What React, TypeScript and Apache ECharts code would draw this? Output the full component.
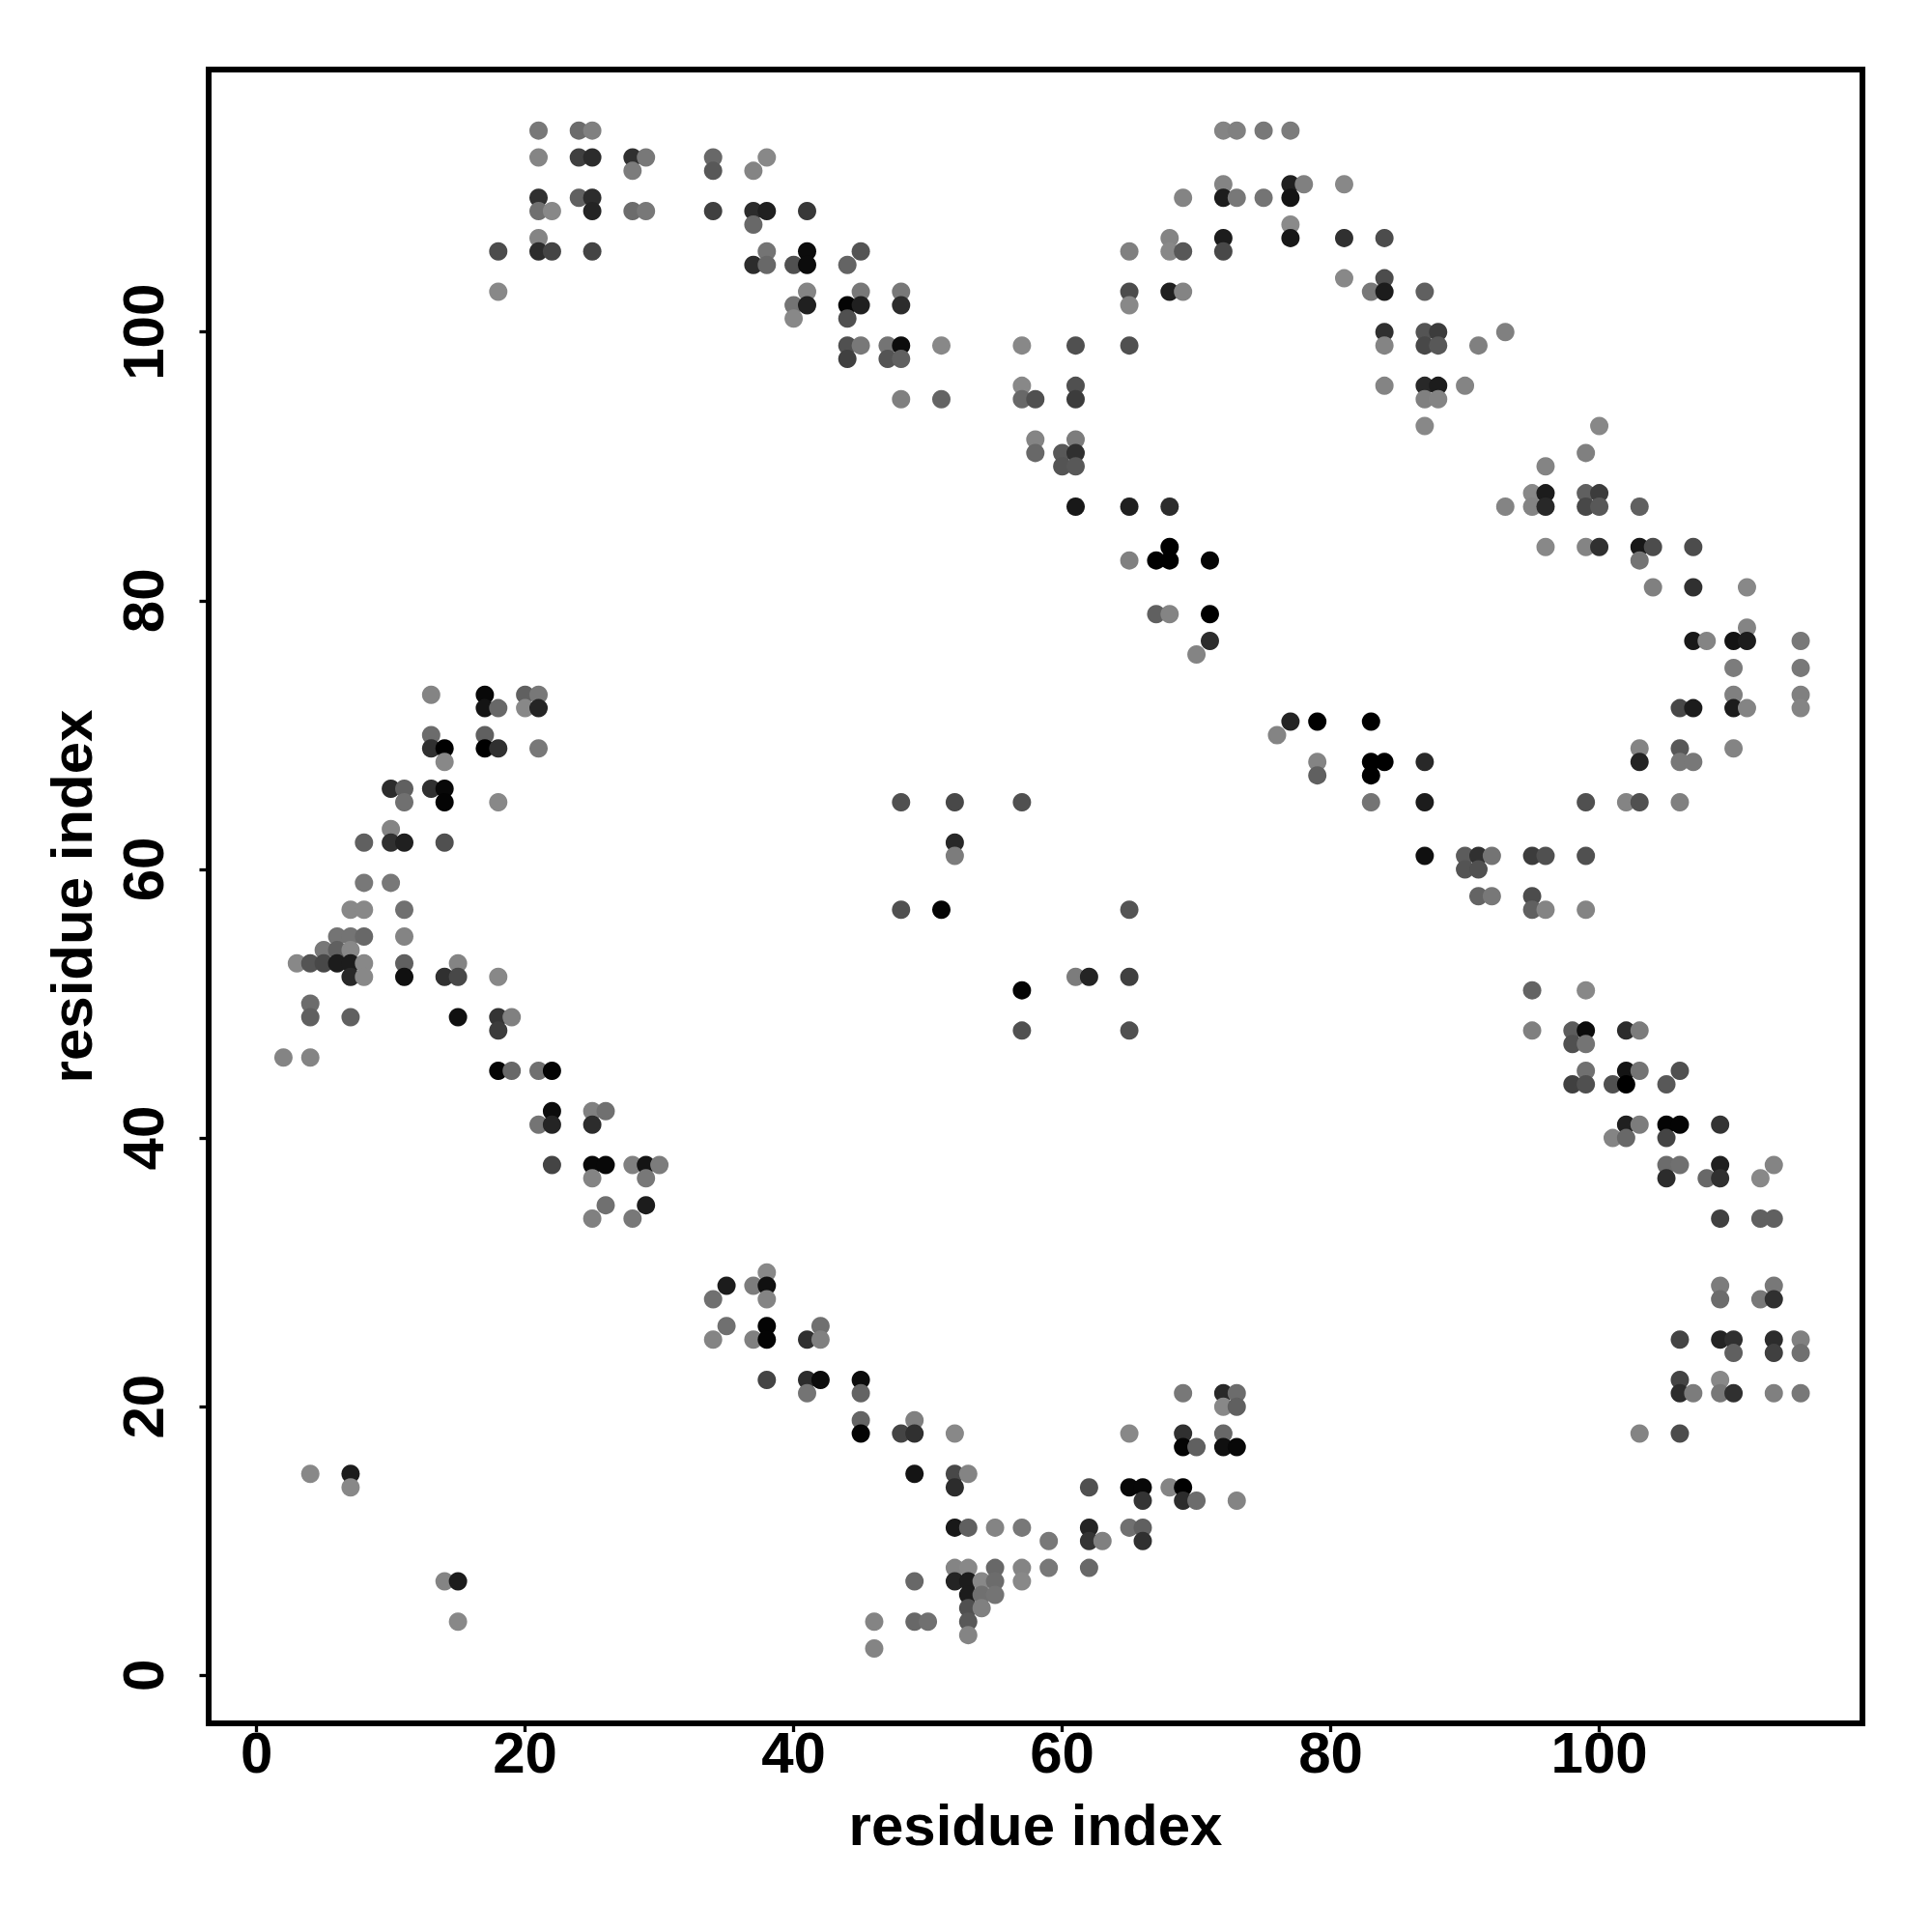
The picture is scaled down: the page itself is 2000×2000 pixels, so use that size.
import React, { useEffect, useRef } from "react";
import * as echarts from "echarts";

const axisTitle = "residue index";
const tickValues = [0, 20, 40, 60, 80, 100];

const rowY = [
  115, 113, 112, 111, 110, 109, 108, 107, 106, 105, 104, 103, 102, 101, 100, 99, 98, 96, 95, 93, 92, 91, 90, 88, 87,
  84, 83, 81, 79, 78, 77, 76, 75, 73, 72, 71, 70, 69, 68, 67, 66, 65, 63, 62, 61, 60, 59, 58, 57, 55, 54, 53, 52, 51,
  50, 49, 48, 47, 46, 45, 44, 42, 41, 40, 38, 37, 35, 34, 30, 29, 28, 26, 25, 24, 22, 21, 20, 19, 18, 17, 15, 14, 13,
  11, 10, 8, 7, 6, 5, 4, 3, 2,
];

const rowX = [
  [21, 24, 25, 72, 73, 75, 77],
  [21, 24, 25, 28, 29, 34, 38],
  [28, 34, 37],
  [72, 77, 78, 81],
  [21, 24, 25, 69, 72, 73, 75, 77],
  [21, 22, 25, 28, 29, 34, 37, 38, 41],
  [37, 77],
  [21, 68, 72, 77, 81, 84],
  [18, 21, 22, 25, 38, 41, 45, 65, 68, 69, 72],
  [37, 38, 40, 41, 44],
  [81, 84],
  [18, 41, 45, 48, 65, 68, 69, 83, 84, 87],
  [40, 41, 44, 45, 48, 65],
  [40, 44],
  [84, 87, 88, 93],
  [44, 45, 47, 48, 51, 57, 61, 65, 84, 87, 88, 91],
  [44, 47, 48],
  [57, 61, 84, 87, 88, 90],
  [48, 51, 57, 58, 61, 87, 88],
  [87, 100],
  [58, 61],
  [58, 60, 61, 99],
  [60, 61, 96],
  [95, 96, 99, 100],
  [61, 65, 68, 93, 95, 96, 99, 100, 103],
  [68, 96, 99, 100, 103, 104, 107],
  [65, 67, 68, 71, 103],
  [104, 107, 111],
  [67, 68, 71],
  [111],
  [71, 107, 108, 110, 111, 115],
  [70],
  [110, 115],
  [13, 17, 20, 21, 110, 115],
  [17, 18, 20, 21, 106, 107, 110, 111, 115],
  [77, 79, 83],
  [13, 17, 76],
  [13, 14, 17, 18, 21, 103, 106, 110],
  [14, 79, 83, 84, 87, 103, 106, 107],
  [79, 83],
  [10, 11, 13, 14],
  [11, 14, 18, 48, 52, 57, 83, 87, 99, 102, 103, 106],
  [10],
  [8, 10, 11, 14, 52],
  [52, 87, 90, 91, 92, 95, 96, 99],
  [90, 91],
  [8, 10],
  [91, 92, 95],
  [7, 8, 11, 48, 51, 65, 95, 96, 99],
  [6, 7, 8, 11],
  [5, 6, 7],
  [3, 4, 5, 6, 7, 8, 11, 15],
  [7, 8, 11, 14, 15, 18, 61, 62, 65],
  [57, 95, 99],
  [4],
  [4, 7, 15, 18, 19],
  [18, 57, 65, 95, 98, 99, 102, 103],
  [98, 99],
  [2, 4],
  [18, 19, 21, 22, 99, 102, 103, 106],
  [98, 99, 101, 102, 105],
  [22, 25, 26],
  [21, 22, 25, 102, 103, 105, 106, 109],
  [101, 102, 105],
  [22, 25, 26, 28, 29, 30, 105, 106, 109, 113],
  [25, 29, 105, 108, 109, 112],
  [26, 29],
  [25, 28, 109, 112, 113],
  [38],
  [35, 37, 38, 109, 113],
  [34, 38, 109, 112, 113],
  [35, 38, 42],
  [34, 37, 38, 41, 42, 106, 109, 110, 113, 115],
  [110, 113, 115],
  [38, 41, 42, 45, 106, 109],
  [41, 45, 69, 72, 73, 106, 107, 109, 110, 113, 115],
  [72, 73],
  [45, 49],
  [45, 48, 49, 52, 65, 69, 72, 103, 106],
  [69, 70, 72, 73],
  [4, 7, 49, 52, 53],
  [7, 52, 62, 65, 66, 68, 69],
  [66, 69, 70, 73],
  [52, 53, 55, 57, 62, 65, 66],
  [59, 62, 63, 66],
  [52, 53, 55, 57, 59, 62],
  [14, 15, 49, 52, 53, 54, 55, 57],
  [53, 54, 55],
  [53, 54],
  [15, 46, 49, 50, 53],
  [53],
  [46],
];

const rowShade = [
  [0x78, 0x6c, 0x80, 0x84, 0x80, 0x78, 0x7c],
  [0x85, 0x40, 0x2c, 0x30, 0x78, 0x68, 0x88],
  [0x7c, 0x58, 0x84],
  [0x84, 0x20, 0x80, 0x88],
  [0x30, 0x60, 0x2c, 0x84, 0x1c, 0x78, 0x74, 0x14],
  [0x70, 0x88, 0x24, 0x6c, 0x78, 0x40, 0x2c, 0x20, 0x38],
  [0x68, 0x8a],
  [0x84, 0x84, 0x1c, 0x18, 0x30, 0x4c],
  [0x4c, 0x2c, 0x44, 0x44, 0x74, 0x0c, 0x54, 0x80, 0x88, 0x58, 0x48],
  [0x2c, 0x68, 0x50, 0x0c, 0x64],
  [0x88, 0x4c],
  [0x88, 0x84, 0x78, 0x78, 0x4c, 0x20, 0x84, 0x78, 0x1c, 0x60],
  [0x74, 0x20, 0x04, 0x20, 0x2c, 0x88],
  [0x88, 0x50],
  [0x30, 0x54, 0x3c, 0x80],
  [0x50, 0x78, 0x74, 0x0c, 0x88, 0x88, 0x50, 0x50, 0x84, 0x48, 0x58, 0x80],
  [0x40, 0x54, 0x60],
  [0x88, 0x50, 0x84, 0x28, 0x1c, 0x84],
  [0x80, 0x64, 0x68, 0x50, 0x3c, 0x80, 0x84],
  [0x88, 0x88],
  [0x84, 0x7c],
  [0x68, 0x58, 0x30, 0x80],
  [0x54, 0x58, 0x84],
  [0x88, 0x1c, 0x60, 0x3c],
  [0x18, 0x20, 0x2c, 0x84, 0x84, 0x28, 0x48, 0x58, 0x60],
  [0x00, 0x88, 0x84, 0x30, 0x18, 0x4c, 0x4c],
  [0x80, 0x00, 0x00, 0x04, 0x74],
  [0x80, 0x30, 0x88],
  [0x60, 0x84, 0x00],
  [0x84],
  [0x2c, 0x18, 0x84, 0x14, 0x1c, 0x78],
  [0x84],
  [0x7c, 0x78],
  [0x84, 0x08, 0x60, 0x78, 0x80, 0x80],
  [0x14, 0x68, 0x88, 0x24, 0x48, 0x1c, 0x1c, 0x84, 0x84],
  [0x24, 0x00, 0x00],
  [0x6c, 0x60, 0x84],
  [0x30, 0x00, 0x00, 0x30, 0x78, 0x84, 0x58, 0x84],
  [0x88, 0x84, 0x00, 0x00, 0x28, 0x24, 0x78, 0x78],
  [0x60, 0x00],
  [0x2c, 0x60, 0x30, 0x08],
  [0x70, 0x04, 0x88, 0x50, 0x48, 0x50, 0x74, 0x1c, 0x50, 0x84, 0x50, 0x80],
  [0x84],
  [0x60, 0x30, 0x20, 0x50, 0x28],
  [0x7c, 0x10, 0x5c, 0x30, 0x74, 0x3c, 0x50, 0x50],
  [0x54, 0x50],
  [0x78, 0x78],
  [0x64, 0x78, 0x4c],
  [0x88, 0x88, 0x70, 0x50, 0x04, 0x54, 0x60, 0x84, 0x84],
  [0x74, 0x74, 0x68, 0x84],
  [0x78, 0x60, 0x88],
  [0x88, 0x54, 0x48, 0x1c, 0x1c, 0x88, 0x60, 0x84],
  [0x28, 0x88, 0x10, 0x30, 0x48, 0x88, 0x7c, 0x24, 0x40],
  [0x04, 0x64, 0x88],
  [0x6c],
  [0x60, 0x60, 0x10, 0x34, 0x80],
  [0x3c, 0x50, 0x50, 0x80, 0x5c, 0x0c, 0x2c, 0x7c],
  [0x50, 0x74],
  [0x84, 0x84],
  [0x04, 0x68, 0x70, 0x04, 0x70, 0x14, 0x74, 0x50],
  [0x40, 0x50, 0x50, 0x00, 0x58],
  [0x0c, 0x80, 0x70],
  [0x74, 0x24, 0x2c, 0x20, 0x7c, 0x04, 0x04, 0x34],
  [0x84, 0x68, 0x44],
  [0x44, 0x08, 0x08, 0x80, 0x14, 0x7c, 0x6c, 0x70, 0x20, 0x84],
  [0x84, 0x78, 0x2c, 0x68, 0x30, 0x88],
  [0x70, 0x1c],
  [0x80, 0x78, 0x40, 0x60, 0x60],
  [0x88],
  [0x1c, 0x7c, 0x10, 0x7c, 0x78],
  [0x70, 0x84, 0x6c, 0x78, 0x30],
  [0x70, 0x04, 0x70],
  [0x84, 0x80, 0x04, 0x30, 0x80, 0x44, 0x24, 0x30, 0x2c, 0x80],
  [0x60, 0x40, 0x70],
  [0x44, 0x2c, 0x0c, 0x0c, 0x44, 0x88],
  [0x74, 0x64, 0x78, 0x28, 0x6c, 0x2c, 0x7c, 0x78, 0x30, 0x80, 0x78],
  [0x88, 0x60],
  [0x64, 0x80],
  [0x04, 0x44, 0x30, 0x88, 0x88, 0x30, 0x68, 0x84, 0x4c],
  [0x04, 0x60, 0x10, 0x08],
  [0x88, 0x1c, 0x14, 0x48, 0x84],
  [0x88, 0x2c, 0x50, 0x08, 0x08, 0x84, 0x00],
  [0x34, 0x2c, 0x6c, 0x84],
  [0x18, 0x60, 0x84, 0x78, 0x24, 0x70, 0x60],
  [0x78, 0x34, 0x80, 0x30],
  [0x84, 0x88, 0x68, 0x84, 0x78, 0x68],
  [0x84, 0x1c, 0x68, 0x24, 0x1c, 0x88, 0x6c, 0x88],
  [0x1c, 0x70, 0x74],
  [0x50, 0x80],
  [0x88, 0x84, 0x68, 0x70, 0x58],
  [0x84],
  [0x84],
];

const FONT = "'Liberation Sans', Arial, Helvetica, sans-serif";

export default function App() {
  const ref = useRef<HTMLDivElement>(null);
  useEffect(() => {
    document.body.style.margin = "0";
    document.body.style.background = "#fff";
    const chart = echarts.init(ref.current!, null, { renderer: "svg" });
    const points: { value: number[]; itemStyle: { color: string } }[] = [];
    rowY.forEach((y, r) => {
      rowX[r].forEach((x, i) => {
        const g = rowShade[r][i];
        points.push({ value: [x, y], itemStyle: { color: `rgb(${g},${g},${g})` } });
      });
    });
    points.sort((a, b) => a.value[0] - b.value[0] || b.value[1] - a.value[1]);
    const label = { show: true, color: "#000", fontFamily: FONT, fontWeight: "bold" as const, fontSize: 60 };
    const name = { color: "#000", fontFamily: FONT, fontWeight: "bold" as const, fontSize: 60 };
    chart.setOption({
      animation: false,
      backgroundColor: "#fff",
      grid: {
        show: true,
        left: 216,
        top: 72,
        width: 1712,
        height: 1712,
        borderColor: "#000",
        borderWidth: 6,
        backgroundColor: "transparent",
      },
      xAxis: {
        type: "value",
        min: -3.57,
        max: 119.6,
        name: axisTitle,
        nameLocation: "middle",
        nameGap: 75,
        nameMoveOverlap: false,
        nameTextStyle: name,
        axisLine: { show: false, onZero: false },
        splitLine: { show: false },
        axisTick: { show: true, length: 9, lineStyle: { color: "#000", width: 3.3 }, customValues: tickValues },
        axisLabel: { ...label, margin: 0, customValues: tickValues, formatter: (v: number) => String(v) },
      },
      yAxis: {
        type: "value",
        position: "left",
        min: -3.57,
        max: 119.54,
        name: axisTitle,
        nameLocation: "middle",
        nameGap: 112,
        nameMoveOverlap: false,
        nameTextStyle: name,
        axisLine: { show: false, onZero: false },
        splitLine: { show: false },
        axisTick: { show: true, length: 9.5, lineStyle: { color: "#000", width: 3.3 }, customValues: tickValues },
        axisLabel: { ...label, rotate: 90, margin: 38, customValues: tickValues, formatter: (v: number) => String(v) },
      },
      series: [
        {
          type: "scatter",
          symbol: "circle",
          symbolSize: 19,
          data: points,
          itemStyle: { opacity: 1 },
          silent: true,
        },
      ],
    });
    return () => chart.dispose();
  }, []);
  return <div ref={ref} style={{ position: "absolute", left: 0, top: 0, width: 2000, height: 2000 }} />;
}
